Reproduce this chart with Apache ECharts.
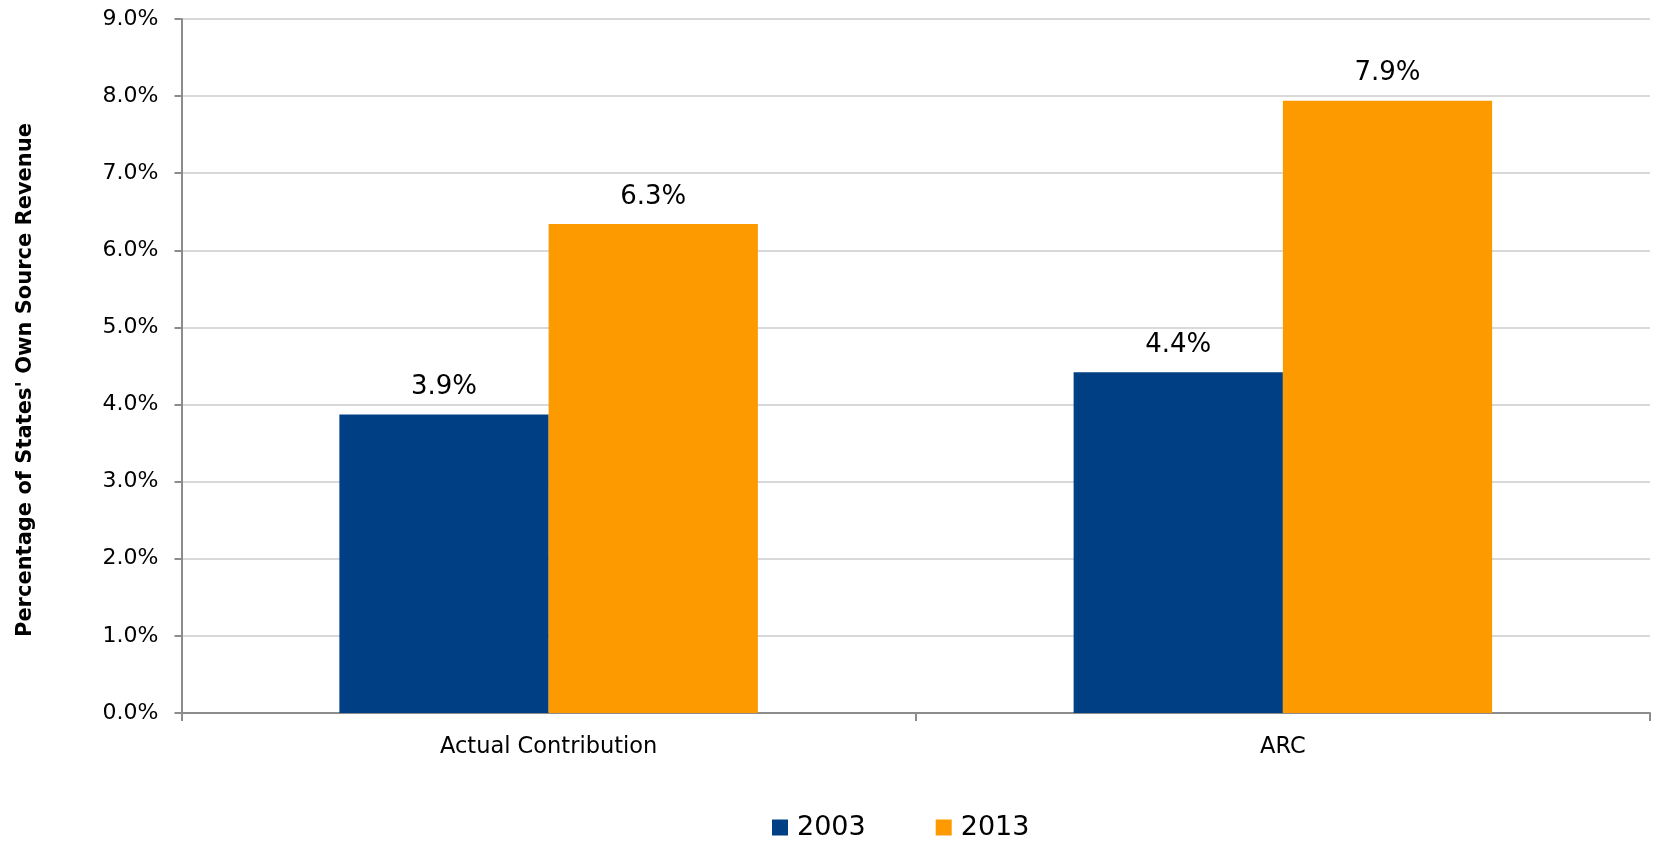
<!DOCTYPE html>
<html>
<head>
<meta charset="utf-8">
<script src="https://cdn.jsdelivr.net/npm/echarts@6/dist/echarts.min.js"></script>
<style>
html,body{margin:0;padding:0;background:#fff;}
#chart{width:1653px;height:841px;}
</style>
</head>
<body>
<div id="chart"></div>
<script>
const categories = ['Actual Contribution', 'ARC'];
const seriesNames = ['2003', '2013'];
const values2003 = [3.87, 4.42];
const values2013 = [6.34, 7.94];
const yTicks = { min: 0, max: 9, interval: 1 };

const FONT = 'DejaVu Sans';
const chart = echarts.init(document.getElementById('chart'));
const labelOpt = {
  show: true, position: 'top', distance: 14,
  fontFamily: FONT, fontSize: 26, color: '#000',
  formatter: p => p.value.toFixed(1) + '%'
};
chart.setOption({
  animation: false,
  backgroundColor: '#fff',
  grid: { left: 181.5, right: 3, top: 19, bottom: 128, containLabel: false },
  legend: {
    data: seriesNames, left: 767, top: 809, itemWidth: 16, itemHeight: 16, itemGap: 70,
    icon: 'rect',
    textStyle: { fontFamily: FONT, fontSize: 27, color: '#000', padding: [0, 0, 0, 4] }
  },
  xAxis: {
    type: 'category', data: categories,
    axisLine: { lineStyle: { color: '#8c8c8c', width: 2 } },
    axisTick: { show: true, length: 8, lineStyle: { color: '#8c8c8c', width: 2 } },
    axisLabel: { fontFamily: FONT, fontSize: 22.5, color: '#000', margin: 23 }
  },
  yAxis: {
    type: 'value', min: yTicks.min, max: yTicks.max, interval: yTicks.interval,
    name: "Percentage of States' Own Source Revenue",
    nameLocation: 'middle', nameGap: 145,
    nameTextStyle: { fontFamily: FONT, fontSize: 21, fontWeight: 'bold', color: '#000', padding: [0, 28, 0, 0] },
    axisLine: { show: true, lineStyle: { color: '#8c8c8c', width: 2 } },
    axisTick: { show: true, length: 7, lineStyle: { color: '#8c8c8c', width: 2 } },
    axisLabel: { fontFamily: FONT, fontSize: 22, color: '#000', margin: 23, formatter: v => v.toFixed(1) + '%' },
    splitLine: { show: true, lineStyle: { color: '#d9d9d9', width: 2 } }
  },
  series: [
    { name: seriesNames[0], type: 'bar', data: values2003, barGap: '0%', barCategoryGap: '43%',
      itemStyle: { color: '#003f83' }, label: labelOpt },
    { name: seriesNames[1], type: 'bar', data: values2013, barGap: '0%', barCategoryGap: '43%',
      itemStyle: { color: '#fc9a00' }, label: labelOpt }
  ]
});
</script>
</body>
</html>
